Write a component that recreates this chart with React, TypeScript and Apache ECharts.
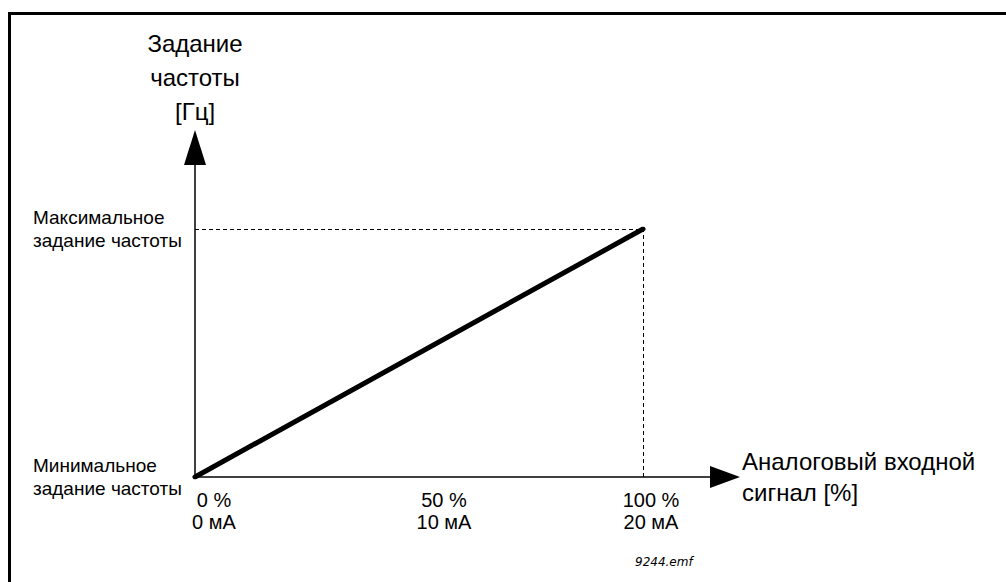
import React, { useEffect, useRef } from "react";
import * as echarts from "echarts";

// ---- data ----
const xTicks = [0, 50, 100];
const xTickPercent = ["0 %", "50 %", "100 %"];
const xTickCurrent = ["0 мА", "10 мА", "20 мА"];
const yTickValues = [0, 100];
const yTickLabels = ["Минимальное\nзадание частоты", "Максимальное\nзадание частоты"];
const inputSignal = [0, 100]; // analog input, %
const freqReference = [0, 100]; // frequency reference, % of range (min .. max)
const yAxisTitle = "Задание\nчастоты\n[Гц]";
const xAxisTitle = "Аналоговый входной\nсигнал [%]";
const fileTag = "9244.emf";

const FONT = "'Liberation Sans', Arial, sans-serif";
// per-tick horizontal shift of the tick labels (style)
const tickPad = [38, 50, 16];

export default function App() {
  const ref = useRef<HTMLDivElement>(null);
  useEffect(() => {
    if (!ref.current) return;
    const chart = echarts.init(ref.current, undefined, { renderer: "svg" });
    const rich: Record<string, any> = {};
    xTicks.forEach((_, i) => {
      rich["t" + i] = {
        fontSize: 20,
        lineHeight: 22,
        fontFamily: FONT,
        color: "#000",
        padding: [0, 0, 0, tickPad[i]],
      };
    });
    const pts = inputSignal.map((x, i) => [x, freqReference[i]]);
    const last = pts[pts.length - 1];
    chart.setOption({
      animation: false,
      backgroundColor: "#fff",
      grid: { left: 195, top: 229, right: 363, bottom: 105, containLabel: false },
      xAxis: {
        type: "value",
        min: 0,
        max: 100,
        interval: 50,
        axisLine: { show: false },
        axisTick: { show: false },
        splitLine: { show: false },
        name: xAxisTitle,
        nameLocation: "end",
        nameGap: 99,
        nameTextStyle: {
          fontSize: 24,
          lineHeight: 31,
          fontFamily: FONT,
          color: "#000",
          align: "left",
          verticalAlign: "middle",
        },
        axisLabel: {
          margin: 12,
          formatter: (v: number) => {
            const i = xTicks.indexOf(v);
            if (i < 0) return "";
            return `{t${i}|${xTickPercent[i]}}\n{t${i}|${xTickCurrent[i]}}`;
          },
          rich,
        },
      },
      yAxis: {
        type: "value",
        min: 0,
        max: 100,
        interval: 100,
        axisLine: { show: false },
        axisTick: { show: false },
        splitLine: { show: false },
        name: yAxisTitle,
        nameLocation: "end",
        nameGap: 101,
        nameTextStyle: {
          fontSize: 24,
          lineHeight: 34,
          fontFamily: FONT,
          color: "#000",
        },
        axisLabel: {
          margin: 162,
          align: "left",
          fontSize: 19,
          lineHeight: 23,
          fontFamily: FONT,
          color: "#000",
          padding: [0, 0, 8, 0],
          formatter: (v: number) => {
            const i = yTickValues.indexOf(v);
            return i < 0 ? "" : yTickLabels[i];
          },
        },
      },
      series: [
        {
          type: "line",
          data: pts,
          symbol: "none",
          lineStyle: { color: "#000", width: 5, cap: "round" },
          silent: true,
          markLine: {
            silent: true,
            symbol: "none",
            label: { show: false },
            lineStyle: { color: "#000", width: 1, type: [4, 3] },
            data: [
              [{ coord: [0, last[1]] }, { coord: last }],
              [{ coord: [last[0], 0] }, { coord: last }],
            ],
          },
        },
      ],
    });

    const o = chart.convertToPixel({ gridIndex: 0 }, [0, 0]) as number[];
    const xe = chart.convertToPixel({ gridIndex: 0 }, [100, 0]) as number[];
    const ye = chart.convertToPixel({ gridIndex: 0 }, [0, 100]) as number[];
    const xTip = xe[0] + 97;
    const yTip = ye[1] - 99;
    const head = 30;
    const half = 11;
    chart.setOption({
      graphic: [
        // frame
        { type: "line", shape: { x1: 8, y1: 13.5, x2: 1006, y2: 13.5 }, style: { stroke: "#000", lineWidth: 3 } },
        { type: "line", shape: { x1: 9.5, y1: 12, x2: 9.5, y2: 582 }, style: { stroke: "#000", lineWidth: 3 } },
        // x axis
        { type: "line", shape: { x1: o[0], y1: o[1], x2: xTip - head + 2, y2: o[1] }, style: { stroke: "#000", lineWidth: 1.5 } },
        {
          type: "polygon",
          shape: { points: [[xTip - head, o[1] - half], [xTip, o[1]], [xTip - head, o[1] + half]] },
          style: { fill: "#000" },
        },
        // y axis
        { type: "line", shape: { x1: o[0], y1: o[1], x2: o[0], y2: yTip + head - 2 }, style: { stroke: "#000", lineWidth: 1.5 } },
        {
          type: "polygon",
          shape: { points: [[o[0] - half, yTip + head + 5], [o[0], yTip], [o[0] + half, yTip + head + 5]] },
          style: { fill: "#000" },
        },
        {
          type: "text",
          left: 635,
          top: 556,
          style: {
            text: fileTag,
            fontSize: 12,
            fontStyle: "italic",
            fontFamily: "'DejaVu Sans', Verdana, sans-serif",
            fill: "#000",
          },
        },
      ],
    });
    return () => chart.dispose();
  }, []);
  return (
    <div
      ref={ref}
      style={{ position: "fixed", left: 0, top: 0, width: 1006, height: 582, background: "#fff" }}
    />
  );
}
